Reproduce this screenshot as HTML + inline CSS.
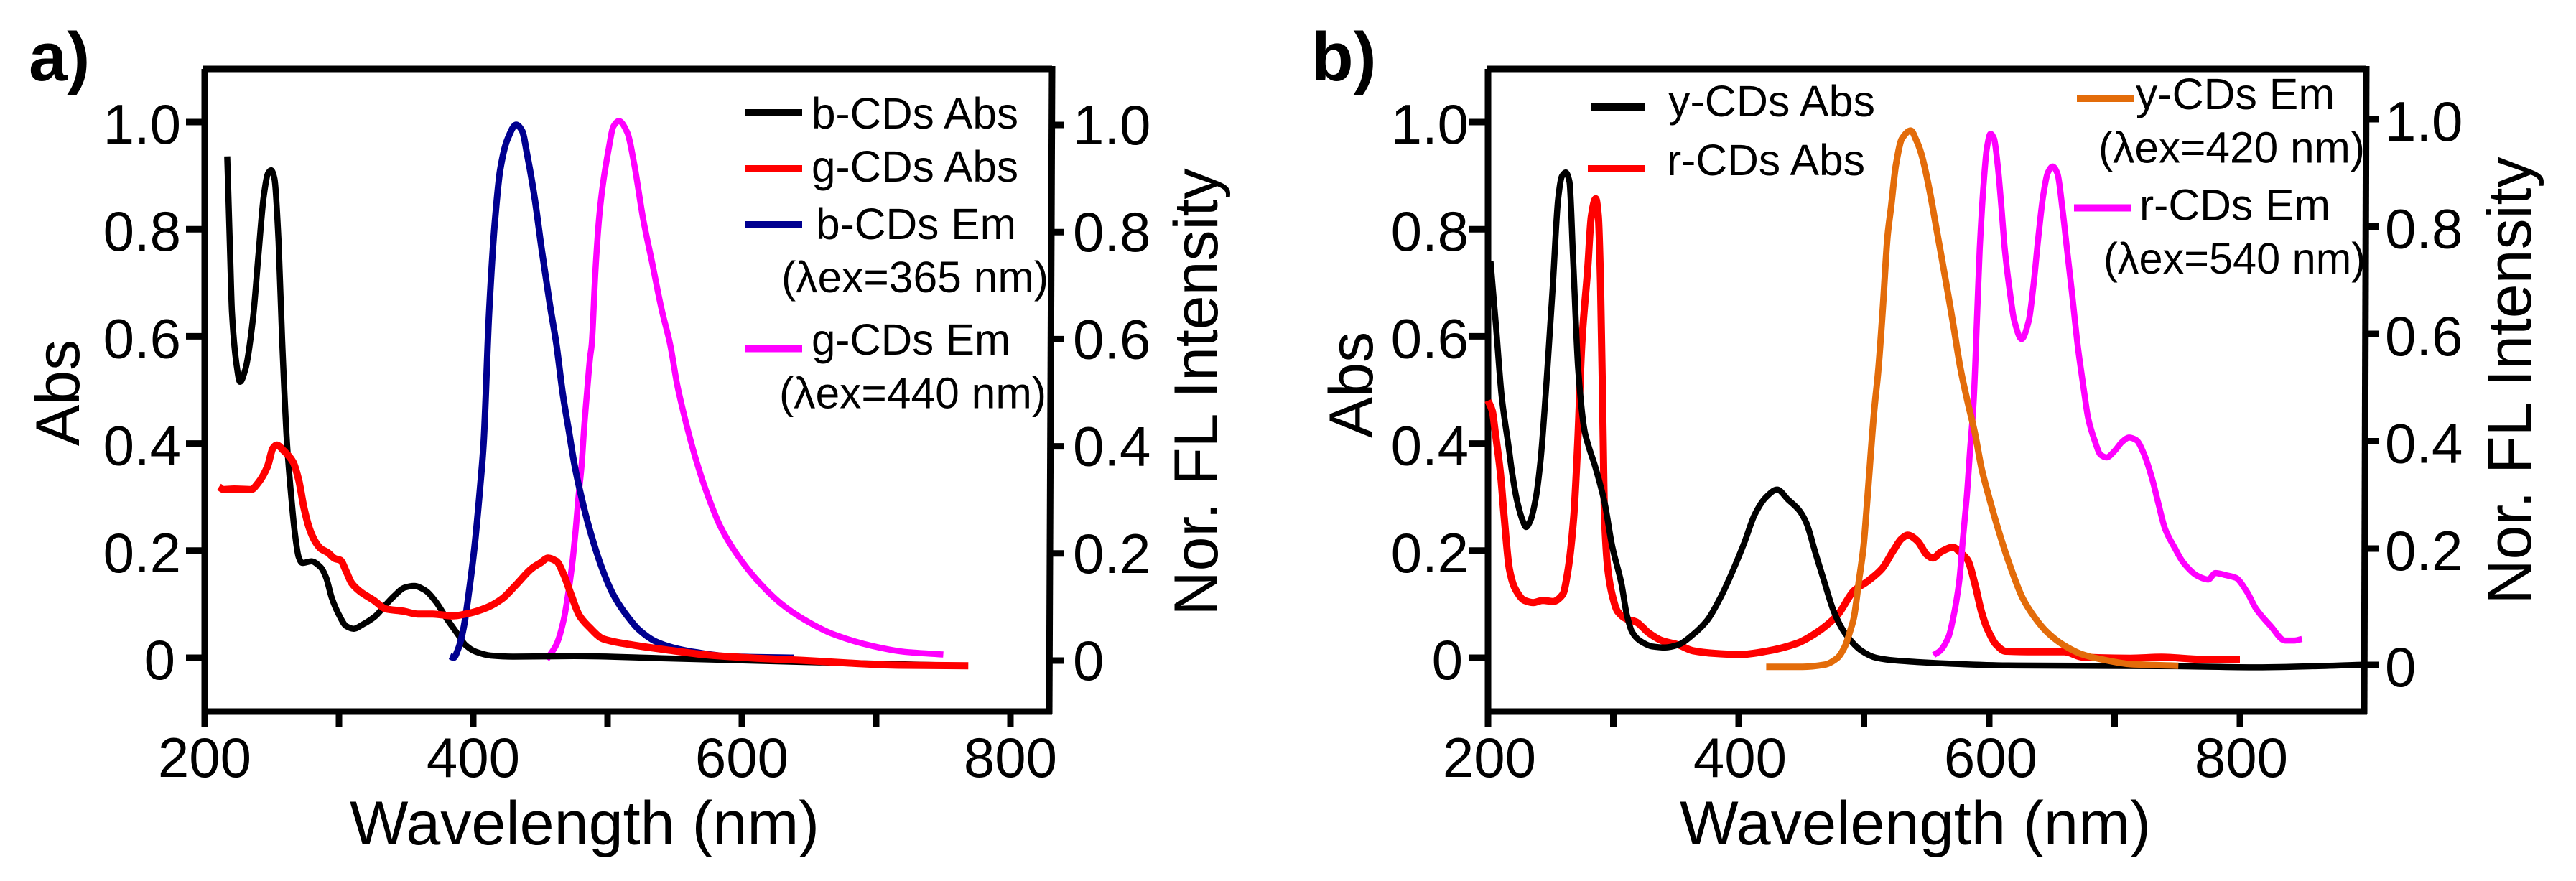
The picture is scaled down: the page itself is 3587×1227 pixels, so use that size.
<!DOCTYPE html>
<html lang="en">
<head>
<meta charset="utf-8">
<title>Absorption and emission spectra of carbon dots</title>
<style>
html,body{margin:0;padding:0;background:#fff;}
svg{display:block;}
text{font-family:"Liberation Sans",Arial,sans-serif;fill:#000;}
.leg{font-size:61px;}
.tick{font-size:78px;}
.title{font-size:86px;}
.panel{font-size:96px;font-weight:bold;}
</style>
</head>
<body>
<svg id="fig" xmlns="http://www.w3.org/2000/svg" width="3587" height="1227" viewBox="0 0 3587 1227">
  <rect width="3587" height="1227" fill="#fff"/>
  <g id="panelA">
    <g id="axesA"></g>
    <g id="seriesA"></g>
    <text class="panel" x="40" y="112">a)</text>
    <text class="title" x="487" y="1176" textLength="654" lengthAdjust="spacingAndGlyphs">Wavelength (nm)</text>
    <text class="title" text-anchor="middle" transform="translate(110 547) rotate(-90)">Abs</text>
    <text class="title" text-anchor="middle" transform="translate(1695 546) rotate(-90)">Nor. FL Intensity</text>
    <g>
      <line x1="1038" x2="1117" y1="157" y2="157" stroke="#000" stroke-width="10"/>
      <text class="leg" x="1130" y="179" textLength="288" lengthAdjust="spacingAndGlyphs">b-CDs Abs</text>
      <line x1="1038" x2="1117" y1="235" y2="235" stroke="#f00" stroke-width="10"/>
      <text class="leg" x="1130" y="253" textLength="288" lengthAdjust="spacingAndGlyphs">g-CDs Abs</text>
      <line x1="1038" x2="1117" y1="313" y2="313" stroke="#000090" stroke-width="10"/>
      <text class="leg" x="1136" y="333" textLength="279" lengthAdjust="spacingAndGlyphs">b-CDs Em</text>
      <text class="leg" x="1088" y="407" textLength="372" lengthAdjust="spacingAndGlyphs">(λex=365 nm)</text>
      <line x1="1038" x2="1117" y1="485.5" y2="485.5" stroke="#f0f" stroke-width="10"/>
      <text class="leg" x="1130" y="494" textLength="277" lengthAdjust="spacingAndGlyphs">g-CDs Em</text>
      <text class="leg" x="1085" y="568.5" textLength="372" lengthAdjust="spacingAndGlyphs">(λex=440 nm)</text>
    </g>
  </g>
  <g id="panelB">
    <g id="axesB"></g>
    <g id="seriesB"></g>
    <text class="panel" x="1826" y="112">b)</text>
    <text class="title" x="2339" y="1176" textLength="656" lengthAdjust="spacingAndGlyphs">Wavelength (nm)</text>
    <text class="title" text-anchor="middle" transform="translate(1911 536) rotate(-90)">Abs</text>
    <text class="title" text-anchor="middle" transform="translate(3524 530) rotate(-90)">Nor. FL Intensity</text>
    <g>
      <line x1="2215" x2="2290" y1="149" y2="149" stroke="#000" stroke-width="10"/>
      <text class="leg" x="2323" y="162" textLength="288" lengthAdjust="spacingAndGlyphs">y-CDs Abs</text>
      <line x1="2211" x2="2290" y1="235" y2="235" stroke="#f00" stroke-width="10"/>
      <text class="leg" x="2321" y="244" textLength="276" lengthAdjust="spacingAndGlyphs">r-CDs Abs</text>
      <line x1="2892" x2="2971" y1="137" y2="137" stroke="#e36c0a" stroke-width="10"/>
      <text class="leg" x="2974" y="152" textLength="277" lengthAdjust="spacingAndGlyphs">y-CDs Em</text>
      <text class="leg" x="2922" y="226.5" textLength="371" lengthAdjust="spacingAndGlyphs">(λex=420 nm)</text>
      <line x1="2888" x2="2967" y1="289.5" y2="289.5" stroke="#f0f" stroke-width="10"/>
      <text class="leg" x="2979" y="306.5" textLength="266" lengthAdjust="spacingAndGlyphs">r-CDs Em</text>
      <text class="leg" x="2929" y="381" textLength="365" lengthAdjust="spacingAndGlyphs">(λex=540 nm)</text>
    </g>
  </g>
</svg>
<script>
/* Tick values and labels */
const xMajorTicks = [200, 400, 600, 800];
const xMinorTicks = [300, 500, 700];
const yTicks = [0, 0.2, 0.4, 0.6, 0.8, 1.0];
const yTickLabels = ["0", "0.2", "0.4", "0.6", "0.8", "1.0"];

/* Panel a series: [wavelength nm, normalised value] */
const bCDsAbs = [[216.8,.936],[219,.751],[220.3,.645],[223.6,.55],[226.3,.515],[230.4,.539],[235.8,.629],[240,.751],[244,.862],[247.3,.905],[249.5,.91],[252,.894],[255,.777],[257.7,.592],[261.4,.397],[264.5,.3],[267,.236],[270,.188],[272.6,.177],[279.5,.18],[286.3,.169],[290.4,.15],[294.5,.113],[300,.08],[305.4,.059],[310.9,.054],[317.7,.062],[327.3,.078],[334,.0965],[341,.115],[349,.131],[356,.134],[364,.126],[372,.105],[380.5,.072],[388.7,.043],[394,.024],[402,.011],[413,.004],[429.6,.002],[475,.003],[540,-.001],[646,-.008],[768,-.015]];
const gCDsAbs = [[210.7,.319],[214,.314],[222,.315],[234.5,.314],[240,.327],[246.8,.357],[250.8,.391],[253.6,.397],[259,.386],[265.9,.365],[270,.332],[274,.279],[278,.241],[282.3,.217],[286.3,.204],[291.8,.196],[297,.185],[301,.182],[305.4,.161],[309.5,.139],[316,.123],[326,.107],[335,.091],[347.7,.087],[358.7,.0815],[369.6,.0815],[384.6,.078],[397,.083],[410.5,.094],[421.5,.11],[432.6,.138],[443.3,.166],[450,.177],[455.8,.186],[462,.18],[467.4,.155],[472.7,.119],[479,.079],[486,.058],[496.8,.035],[518,.024],[543,.015],[575,.005],[611,-.001],[646,-.005],[680,-.01],[714,-.014],[768.6,-.015]];
const bCDsEm = [[382.7,.003],[385.4,0],[388.7,.016],[392.7,.054],[396.8,.123],[401,.209],[405,.316],[407.7,.4],[411.8,.645],[415.8,.804],[420,.91],[425.5,.968],[432,.995],[436.3,.984],[440.4,.936],[445.8,.857],[451,.761],[457,.66],[462,.584],[466.5,.495],[470.9,.428],[475.4,.36],[479.9,.307],[485.2,.253],[491.4,.2],[497.7,.155],[504,.119],[512.8,.084],[523.5,.052],[536,.03],[548.5,.019],[566,.01],[593,.002],[639,0]];
const gCDsEm = [[454.7,-.003],[456.7,.004],[462,.025],[467.4,.071],[471,.125],[474,.182],[476.3,.24],[478.6,.307],[480.7,.36],[482.5,.427],[484.7,.495],[487,.561],[488.2,.584],[491,.724],[494,.829],[497,.892],[500.5,.945],[504.4,.992],[508.5,1.002],[514.6,.981],[519.7,.924],[526.5,.819],[533.4,.735],[540.2,.651],[546.7,.584],[552,.508],[559,.433],[566.3,.366],[575.2,.299],[584,.245],[596.6,.192],[610.9,.146],[628.7,.102],[646.6,.071],[668,.044],[697,.022],[721,.011],[750,.006]];

/* Panel b series */
const yCDsAbs = [[202,.74],[206.4,.618],[211,.486],[216.7,.39],[218.7,.354],[223,.295],[227.5,.257],[230.4,.244],[234,.257],[238.3,.3],[242,.37],[247.4,.539],[251.8,.698],[256,.857],[259,.899],[262,.906],[265,.889],[267.8,.751],[272,.539],[277,.424],[280,.397],[285.9,.354],[293,.29],[299,.209],[306.4,.139],[310.8,.08],[315,.048],[321,.032],[331,.021],[341.5,.019],[351.8,.024],[363.5,.043],[375,.07],[385,.11],[394,.155],[404.4,.214],[413,.268],[422,.3],[430.7,.314],[439.5,.295],[448,.276],[454,.252],[461,.198],[468.7,.139],[476,.086],[484.8,.046],[498,.013],[509.6,0],[524,-.005],[568,-.011],[615,-.0145],[750,-.016],[814,-.018],[858,-.016],[897.7,-.013]];
const rCDsAbs = [[200,.48],[203.5,.46],[205.6,.424],[210,.343],[212.9,.263],[217,.166],[221.6,.129],[229,.107],[236,.103],[243.6,.107],[252,.105],[259.6,.118],[264,.166],[268.4,.263],[271.5,.397],[275,.592],[279.5,.724],[282.5,.825],[286,.857],[288,.825],[289.8,.698],[291.8,.424],[293,.263],[295.6,.166],[299,.118],[303.5,.086],[310.8,.072],[318,.067],[328.4,.046],[338.6,.032],[351.8,.024],[363.5,.013],[381,.008],[401.5,.006],[422,.012],[446.8,.027],[462.9,.048],[478.7,.079],[492,.125],[502.5,.142],[514,.165],[523.5,.2],[530,.222],[535,.229],[542.7,.218],[550.3,.192],[555,.186],[561.7,.198],[571,.206],[577,.196],[582.8,.182],[588.5,.138],[594,.084],[599,.051],[605.7,.024],[613,.012],[636,.011],[660,.011],[674.5,.001],[712.7,-.001],[737.5,.001],[770,-.003],[800,-.003]];
const yCDsEm = [[422,-.017],[451,-.017],[468.7,-.013],[479,0],[484.8,.021],[489,.05],[492,.075],[495.9,.142],[499.7,.209],[502.5,.29],[504.5,.352],[506.7,.42],[508.8,.477],[511.2,.53],[515,.651],[518.8,.786],[521.7,.843],[525.5,.92],[530.3,.969],[537.4,.984],[541.8,.966],[545.6,.942],[549.4,.906],[553.2,.862],[558,.799],[561.8,.75],[567.5,.674],[571.4,.62],[577,.54],[582.8,.477],[588.5,.42],[594,.352],[600,.298],[607.6,.236],[615,.182],[626.7,.111],[636.3,.075],[646,.048],[659,.024],[674.5,.006],[693.6,-.005],[712.7,-.012],[750.9,-.015]];
const rCDsEm = [[555.6,.005],[560.8,.013],[567.5,.039],[571.3,.075],[576,.142],[579,.223],[582,.299],[584.7,.388],[587.5,.477],[590.5,.651],[592.4,.763],[595.2,.875],[598,.95],[601,.978],[603.8,.969],[606.7,.92],[609.6,.843],[612.4,.763],[616.2,.687],[620,.629],[625.8,.595],[631.5,.629],[635.3,.696],[639.2,.786],[643,.862],[646.8,.906],[650.6,.917],[654.4,.904],[658.3,.84],[662,.763],[665.9,.683],[670.7,.58],[675.5,.5],[679,.446],[684,.406],[688.8,.379],[693.6,.374],[700,.386],[706,.403],[711.7,.411],[717.5,.406],[723,.383],[730,.334],[734.7,.29],[740.4,.24],[748,.205],[754.7,.178],[766,.153],[774.8,.146],[780.5,.158],[789,.154],[796.8,.149],[805.6,.123],[813,.091],[824.6,.059],[836,.032],[843.6,.032],[849.5,.035]];

const NS = "http://www.w3.org/2000/svg";

function svgEl(tag, parent, attrs) {
  const el = document.createElementNS(NS, tag);
  for (const k in attrs) el.setAttribute(k, attrs[k]);
  parent.appendChild(el);
  return el;
}

/* Monotone cubic path through points given in pixel space */
function monotonePath(pts) {
  const n = pts.length;
  const dx = [], s = [], m = [];
  for (let i = 0; i < n - 1; i++) {
    dx[i] = pts[i + 1][0] - pts[i][0];
    s[i] = (pts[i + 1][1] - pts[i][1]) / dx[i];
  }
  m[0] = s[0];
  m[n - 1] = s[n - 2];
  for (let i = 1; i < n - 1; i++) {
    m[i] = s[i - 1] * s[i] <= 0 ? 0 : 2 * s[i - 1] * s[i] / (s[i - 1] + s[i]);
  }
  let d = "M" + pts[0][0].toFixed(1) + " " + pts[0][1].toFixed(1);
  for (let i = 0; i < n - 1; i++) {
    const h = dx[i] / 3;
    d += "C" + (pts[i][0] + h).toFixed(1) + " " + (pts[i][1] + m[i] * h).toFixed(1) +
         " " + (pts[i + 1][0] - h).toFixed(1) + " " + (pts[i + 1][1] - m[i + 1] * h).toFixed(1) +
         " " + pts[i + 1][0].toFixed(1) + " " + pts[i + 1][1].toFixed(1);
  }
  return d;
}

function drawAxes(g, o) {
  const frame = svgEl("path", g, {
    d: "M" + o.xScale(200) + " 1012V96",
    fill: "none", stroke: "#000", "stroke-width": 9
  });
  
  

  const top = svgEl("line", g, { x1: o.xScale(200) - 2, x2: o.topRight, y1: 96, y2: 96, stroke: "#000", "stroke-width": 9 });
  
  

  const bottom = svgEl("line", g, { x1: o.xScale(200), x2: o.bottomRight + 4, y1: 991, y2: 991, stroke: "#000", "stroke-width": 9 });
  
  

  const right = svgEl("line", g, { x1: o.topRight, x2: o.bottomRight, y1: 92, y2: 995, stroke: "#000", "stroke-width": 9 });
  
  

  xMajorTicks.concat(xMinorTicks).forEach(function (v) {
    const t = svgEl("line", g, { x1: o.xScale(v), x2: o.xScale(v), y1: 995, y2: 1012, stroke: "#000", "stroke-width": 9 });
    
    
  });
  xMajorTicks.forEach(function (v) {
    const t = svgEl("text", g, { class: "tick", x: o.xScale(v) + o.xLabelShift, y: 1082, "text-anchor": "middle" });
    t.textContent = String(v);
    
    
  });
  yTicks.forEach(function (v, i) {
    const y = o.yScale(v);
    const t = svgEl("line", g, { x1: o.xScale(200) - 26, x2: o.xScale(200), y1: y, y2: y, stroke: "#000", "stroke-width": 9 });
    
    
    const l = svgEl("text", g, { class: "tick", x: o.leftLabelX - (v === 0 ? 8 : 0), y: y + 30, "text-anchor": "end" });
    l.textContent = yTickLabels[i];
    
    

    const ry = o.rightScale(v);
    const rx = o.topRight + (o.bottomRight - o.topRight) * (ry - 92) / 903;
    const rt = svgEl("line", g, { x1: rx, x2: o.rightTickEnd, y1: ry, y2: ry, stroke: "#000", "stroke-width": 9 });
    
    
    const rl = svgEl("text", g, { class: "tick", x: o.rightLabelX, y: ry + o.rightLabelDrop });
    rl.textContent = yTickLabels[i];
    
    
  });
}

function drawSeries(g, o, values, color, width, name) {
  const pts = values.map(function (p) { return [o.xScale(p[0]), o.yScale(p[1])]; });
  const path = svgEl("path", g, {
    d: monotonePath(pts), fill: "none", stroke: color,
    "stroke-width": width, "stroke-linejoin": "round", "stroke-linecap": "butt"
  });
  
  
}

const leftY = function (v) { return 916 - v * 746; };

const panelA = {
  xScale: function (w) { return 285 + (w - 200) * 1.87; },
  yScale: leftY,
  rightScale: function (v) { return 920 - v * 746; },
  topRight: 1465, bottomRight: 1461, rightTickEnd: 1482,
  leftLabelX: 252, rightLabelX: 1494, rightLabelDrop: 27, xLabelShift: 0
};
const panelB = {
  xScale: function (w) { return 2072 + (w - 200) * 1.745; },
  yScale: leftY,
  /* hand-placed right axis: the zero tick sits lower than the even spacing of the others */
  rightScale: function (v) { return v < 0.2 ? 926 - v * 810 : 764 - (v - 0.2) * 747.5; },
  topRight: 3295, bottomRight: 3292, rightTickEnd: 3312,
  leftLabelX: 2045, rightLabelX: 3321, rightLabelDrop: 30, xLabelShift: 2
};

const axesA = document.getElementById("axesA");
const axesB = document.getElementById("axesB");
const seriesA = document.getElementById("seriesA");
const seriesB = document.getElementById("seriesB");

drawAxes(axesA, panelA);
drawAxes(axesB, panelB);

drawSeries(seriesA, panelA, gCDsEm, "#f0f", 8.5, "series-g-cds-em");
drawSeries(seriesA, panelA, bCDsAbs, "#000", 8.5, "series-b-cds-abs");
drawSeries(seriesA, panelA, bCDsEm, "#000090", 9, "series-b-cds-em");
drawSeries(seriesA, panelA, gCDsAbs, "#f00", 10, "series-g-cds-abs");

drawSeries(seriesB, panelB, rCDsAbs, "#f00", 10, "series-r-cds-abs");
drawSeries(seriesB, panelB, yCDsAbs, "#000", 8.5, "series-y-cds-abs");
drawSeries(seriesB, panelB, rCDsEm, "#f0f", 8.5, "series-r-cds-em");
drawSeries(seriesB, panelB, yCDsEm, "#e36c0a", 9, "series-y-cds-em");
</script>
</body>
</html>
